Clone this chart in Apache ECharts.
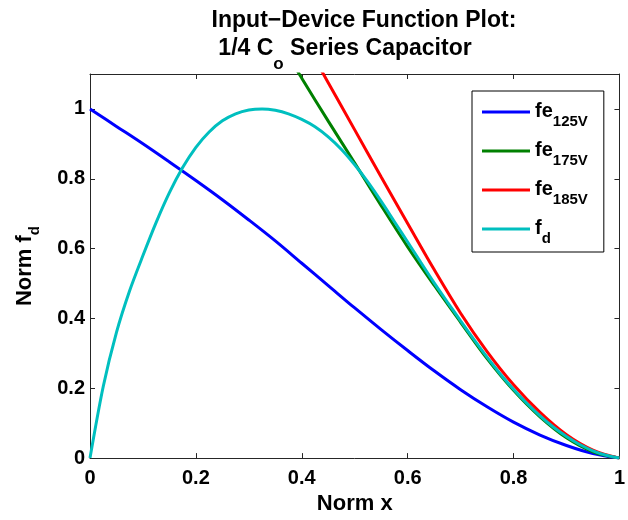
<!DOCTYPE html>
<html>
<head>
<meta charset="utf-8">
<script src="https://cdn.jsdelivr.net/npm/echarts@6/dist/echarts.min.js"></script>
<style>
html,body{margin:0;padding:0;background:#fff;}
#c{width:628px;height:520px;}
</style>
</head>
<body>
<div id="c"></div>
<script>
var xValues = [0, 0.05, 0.1, 0.15, 0.2, 0.25, 0.3, 0.35, 0.4, 0.45, 0.5, 0.55, 0.6, 0.65, 0.7, 0.75, 0.8, 0.85, 0.9, 0.95, 1];
var fe125V = [1, 0.95, 0.9, 0.848, 0.795, 0.74, 0.682, 0.622, 0.558, 0.494, 0.43, 0.368, 0.308, 0.25, 0.196, 0.147, 0.103, 0.066, 0.036, 0.013, 0];
var fe175V = [null, null, null, null, null, null, 1.35, 1.215, 1.088, 0.965, 0.845, 0.723, 0.605, 0.495, 0.389, 0.285, 0.194, 0.118, 0.058, 0.018, 0];
var fe185V = [null, null, null, null, null, null, null, 1.34, 1.21, 1.075, 0.94, 0.805, 0.672, 0.54, 0.415, 0.305, 0.21, 0.131, 0.067, 0.023, 0];
var fdX = [0, 0.025, 0.05, 0.075, 0.1, 0.125, 0.15, 0.175, 0.2, 0.225, 0.25, 0.275, 0.3, 0.325, 0.35, 0.375, 0.4, 0.425, 0.45, 0.475, 0.5,
           0.525, 0.55, 0.575, 0.6, 0.625, 0.65, 0.675, 0.7, 0.725, 0.75, 0.775, 0.8, 0.825, 0.85, 0.875, 0.9, 0.925, 0.95, 0.975, 1];
var fd = [0, 0.205, 0.36, 0.48, 0.58, 0.675, 0.76, 0.832, 0.89, 0.934, 0.966, 0.986, 0.997, 1.0, 0.996, 0.986, 0.97, 0.949, 0.92, 0.884, 0.84,
          0.79, 0.735, 0.677, 0.619, 0.56, 0.502, 0.447, 0.393, 0.34, 0.289, 0.241, 0.197, 0.157, 0.121, 0.089, 0.062, 0.039, 0.021, 0.008, 0];
var xTicks = [0, 0.2, 0.4, 0.6, 0.8, 1];
var yTicks = [0, 0.2, 0.4, 0.6, 0.8, 1];

function pairs(xs, ys) {
  var out = [];
  for (var i = 0; i < xs.length; i++) {
    if (ys[i] !== null) out.push([xs[i], ys[i]]);
  }
  return out;
}

var FONT = '"Liberation Sans", Arial, Helvetica, sans-serif';
var axisCol = '#262626';

var legendNames = {
  'fe125V': '{m|fe}{s|125V}',
  'fe175V': '{m|fe}{s|175V}',
  'fe185V': '{m|fe}{s|185V}',
  'fd': '{m|f}{s|d}'
};

var series = [
  {name: 'fe125V', data: pairs(xValues, fe125V), color: '#0000ff', smooth: 0.35},
  {name: 'fe175V', data: pairs(xValues, fe175V), color: '#008000', smooth: 0.35},
  {name: 'fe185V', data: pairs(xValues, fe185V), color: '#ff0000', smooth: 0.35},
  {name: 'fd', data: pairs(fdX, fd), color: '#00bfbf', smooth: 0.3}
].map(function (s) {
  return {
    name: s.name,
    type: 'line',
    data: s.data,
    smooth: s.smooth,
    showSymbol: false,
    clip: true,
    color: s.color,
    lineStyle: {width: 3, color: s.color},
    animation: false,
    xAxisIndex: 0,
    yAxisIndex: 0
  };
});

function rich(mainSize, subSize, mainLH, subLH, subPad) {
  return {
    m: {fontFamily: FONT, fontWeight: 'bold', fontSize: mainSize, color: '#000', lineHeight: mainLH, verticalAlign: 'top'},
    s: {fontFamily: FONT, fontWeight: 'bold', fontSize: subSize, color: '#000', lineHeight: subLH, padding: [subPad, 0, 0, 0], verticalAlign: 'top'}
  };
}

var chart = echarts.init(document.getElementById('c'), null, {renderer: 'canvas'});
chart.setOption({
  animation: false,
  backgroundColor: '#fff',
  title: [{
    text: 'Input\u2212Device Function Plot:',
    left: 359,
    top: 4,
    textAlign: 'center',
    textStyle: {fontFamily: FONT, fontWeight: 'bold', fontSize: 23, color: '#000', lineHeight: 23}
  }, {
    text: '{m|1/4 C}{s|o}{m| Series Capacitor}',
    left: 340,
    top: 32,
    textAlign: 'center',
    textStyle: {fontFamily: FONT, fontWeight: 'bold', fontSize: 23, color: '#000',
      rich: rich(23, 17, 23, 17, 19)}
  }],
  legend: {
    orient: 'vertical',
    left: 472,
    top: 91,
    padding: [10, 16, 6, 10],
    itemGap: 11,
    itemWidth: 48,
    itemHeight: 3,
    backgroundColor: '#fff',
    borderColor: '#000',
    borderWidth: 1,
    borderRadius: 0,
    icon: 'path://M0,0 L48,0 L48,3 L0,3 Z',
    data: ['fe125V', 'fe175V', 'fe185V', 'fd'],
    formatter: function (n) { return legendNames[n]; },
    textStyle: {
      fontFamily: FONT, fontWeight: 'bold', color: '#000',
      rich: rich(20, 15, 22, 16, 13)
    }
  },
  grid: {left: 90, right: 2, top: 74, bottom: 57, containLabel: false},
  xAxis: [{
    type: 'value', min: 0, max: 1, interval: 0.2,
    name: 'Norm x', nameLocation: 'middle', nameGap: 30,
    nameTextStyle: {fontFamily: FONT, fontWeight: 'bold', fontSize: 22, color: '#000'},
    axisLine: {show: true, onZero: false, lineStyle: {color: axisCol, width: 1}},
    axisTick: {show: true, inside: true, length: 5, lineStyle: {color: axisCol}},
    axisLabel: {fontFamily: FONT, fontWeight: 'bold', fontSize: 20, color: '#000', margin: 10,
      formatter: function (v) { return String(+v.toFixed(1)); }},
    splitLine: {show: false}
  }, {
    type: 'value', min: 0, max: 1, interval: 0.2, position: 'top',
    axisLine: {show: true, onZero: false, lineStyle: {color: axisCol, width: 1}},
    axisTick: {show: true, inside: true, length: 5, lineStyle: {color: axisCol}},
    axisLabel: {show: false},
    splitLine: {show: false}
  }],
  yAxis: [{
    type: 'value', min: 0, max: 1.1, interval: 0.2,
    name: '{m|Norm f}{s|d}', nameLocation: 'middle', nameGap: 52, nameRotate: 90,
    nameTextStyle: {fontFamily: FONT, fontWeight: 'bold', fontSize: 22, color: '#000',
      rich: rich(22, 15, 24, 16, 13)},
    axisLine: {show: true, onZero: false, lineStyle: {color: axisCol, width: 1}},
    axisTick: {show: true, inside: true, length: 5, lineStyle: {color: axisCol}},
    axisLabel: {fontFamily: FONT, fontWeight: 'bold', fontSize: 20, color: '#000', margin: 5,
      showMaxLabel: false,
      formatter: function (v) {
        var r = +v.toFixed(1);
        return (yTicks.indexOf(r) >= 0 && Math.abs(v - r) < 1e-9) ? String(r) : '';
      }},
    splitLine: {show: false}
  }, {
    type: 'value', min: 0, max: 1.1, interval: 0.2, position: 'right',
    axisLine: {show: true, onZero: false, lineStyle: {color: axisCol, width: 1}},
    axisTick: {show: true, inside: true, length: 5, lineStyle: {color: axisCol}},
    axisLabel: {show: false},
    splitLine: {show: false}
  }],
  series: series
});
</script>
</body>
</html>
